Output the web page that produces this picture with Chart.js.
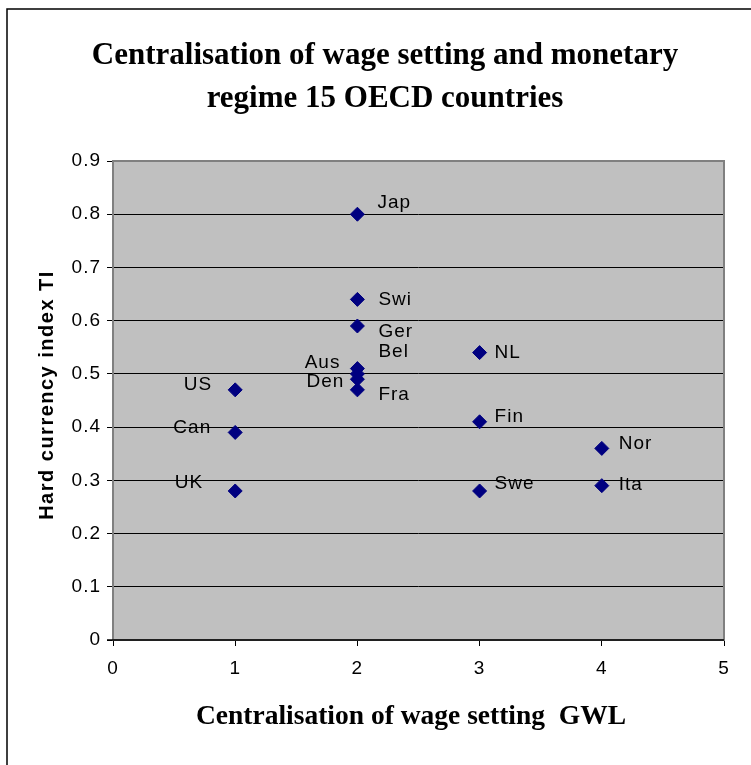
<!DOCTYPE html>
<html>
<head>
<meta charset="utf-8">
<script src="https://cdn.jsdelivr.net/npm/chart.js@4"></script>
<style>
  body { margin: 0; background: #fff; }
  canvas { display: block; background: #fff; }
</style>
</head>
<body>
<canvas id="myChart" width="751" height="765"></canvas>
<script>
// data
const countries = ['Jap', 'Swi', 'Ger', 'Bel', 'Aus', 'Den', 'Fra', 'US', 'Can', 'UK', 'NL', 'Fin', 'Swe', 'Nor', 'Ita'];
const gwl = [2, 2, 2, 2, 2, 2, 2, 1, 1, 1, 3, 3, 3, 4, 4];
const hardCurrency = [0.80, 0.64, 0.59, 0.50, 0.51, 0.49, 0.47, 0.47, 0.39, 0.28, 0.54, 0.41, 0.28, 0.36, 0.29];
const xTicks = [0, 1, 2, 3, 4, 5];
const yTicks = [0, 0.1, 0.2, 0.3, 0.4, 0.5, 0.6, 0.7, 0.8, 0.9];
const chartTitle = ['Centralisation of wage setting and monetary', 'regime 15 OECD countries'];
const xTitle = 'Centralisation of wage setting  GWL';
const yTitle = 'Hard currency index TI';

// where each country name sits next to its marker: [dx, dy, align]
const labelPlacement = [
    [20, -11, 'left'], [21, 0, 'left'], [21, 6, 'left'], [21, -22, 'left'],
    [-17, -6, 'right'], [-13, 3, 'right'], [21, 5, 'left'],
    [-23, -5, 'right'], [-24, -5, 'right'], [-32, -8, 'right'],
    [15, 0, 'left'], [15, -5, 'left'], [15, -7, 'left'],
    [17, -5, 'left'], [17, -1, 'left']
];

const sans = 'Liberation Sans, Arial, sans-serif';
const serif = 'Liberation Serif, Times New Roman, serif';

// excel spreads its sans text out a little
const spacing = {
    id: 'spacing',
    beforeUpdate(chart) { chart.ctx.letterSpacing = '1px'; }
};

const plotArea = {
    id: 'plotArea',
    beforeDraw(chart) {
        const { ctx, chartArea: a } = chart;
        ctx.save();
        ctx.fillStyle = '#c0c0c0';
        ctx.fillRect(a.left, a.top, a.right - a.left, a.bottom - a.top);
        ctx.restore();
    },
    beforeDatasetsDraw(chart) {
        const { ctx, chartArea: a } = chart;
        ctx.save();
        ctx.strokeStyle = '#808080';
        ctx.lineWidth = 2;
        ctx.strokeRect(a.left, a.top, a.right - a.left, a.bottom - a.top);
        ctx.strokeStyle = '#000';
        ctx.lineWidth = 1.5;
        ctx.beginPath();
        ctx.moveTo(a.left - 6, a.bottom);
        ctx.lineTo(a.right, a.bottom);
        ctx.stroke();
        ctx.restore();
    },
    afterDraw(chart) {
        const ctx = chart.ctx;
        ctx.save();
        ctx.strokeStyle = '#000';
        ctx.lineWidth = 1.5;
        ctx.strokeRect(7, 9, 800, 800);

        ctx.letterSpacing = '0px';
        ctx.fillStyle = '#000';
        ctx.textAlign = 'center';
        ctx.textBaseline = 'middle';
        ctx.font = 'bold 31px ' + serif;
        ctx.fillText(chartTitle[0], 385, 56);
        ctx.fillText(chartTitle[1], 385, 99);

        ctx.font = 'bold 27.5px ' + serif;
        ctx.fillText(xTitle, 411, 717);

        ctx.letterSpacing = '1.5px';
        ctx.font = 'bold 20px ' + sans;
        ctx.translate(47, 395);
        ctx.rotate(-Math.PI / 2);
        ctx.fillText(yTitle, 0, 0);
        ctx.restore();
    }
};

const pointLabels = {
    id: 'pointLabels',
    afterDatasetsDraw(chart) {
        const ctx = chart.ctx;
        const meta = chart.getDatasetMeta(0);
        ctx.save();
        ctx.font = '19px ' + sans;
        ctx.fillStyle = '#000';
        ctx.textBaseline = 'middle';
        meta.data.forEach((pt, i) => {
            const [dx, dy, align] = labelPlacement[i];
            ctx.textAlign = align;
            ctx.fillText(countries[i], pt.x + dx, pt.y + dy);
        });
        ctx.restore();
    }
};

const ctx = document.getElementById('myChart').getContext('2d');
new Chart(ctx, {
    type: 'scatter',
    data: {
        datasets: [{
            label: yTitle,
            data: gwl.map((x, i) => ({ x: x, y: hardCurrency[i] })),
            pointStyle: 'rectRot',
            pointRadius: 7,
            backgroundColor: '#000080',
            borderColor: '#000080',
            borderWidth: 1
        }]
    },
    options: {
        responsive: false,
        animation: false,
        layout: { padding: { left: 0, right: 27, top: 161, bottom: 0 } },
        plugins: {
            legend: { display: false },
            tooltip: { enabled: false },
            title: { display: false }
        },
        scales: {
            x: {
                type: 'linear',
                min: 0,
                max: 5,
                afterBuildTicks: scale => { scale.ticks = xTicks.map(v => ({ value: v })); },
                afterFit: scale => { scale.height = 125; },
                ticks: { color: '#000', font: { family: sans, size: 19 }, padding: 11 },
                grid: { drawOnChartArea: false, drawTicks: true, tickLength: 6, color: '#000' },
                border: { display: false }
            },
            y: {
                type: 'linear',
                min: 0,
                max: 0.9,
                afterBuildTicks: scale => { scale.ticks = yTicks.map(v => ({ value: v })); },
                afterFit: scale => { scale.width = 113; },
                ticks: {
                    color: '#000',
                    font: { family: sans, size: 19 },
                    padding: 6,
                    callback: v => v === 0 ? '0' : v.toFixed(1)
                },
                grid: { color: '#000', tickLength: 6, lineWidth: 1 },
                border: { display: false }
            }
        }
    },
    plugins: [spacing, plotArea, pointLabels]
});
</script>
</body>
</html>
